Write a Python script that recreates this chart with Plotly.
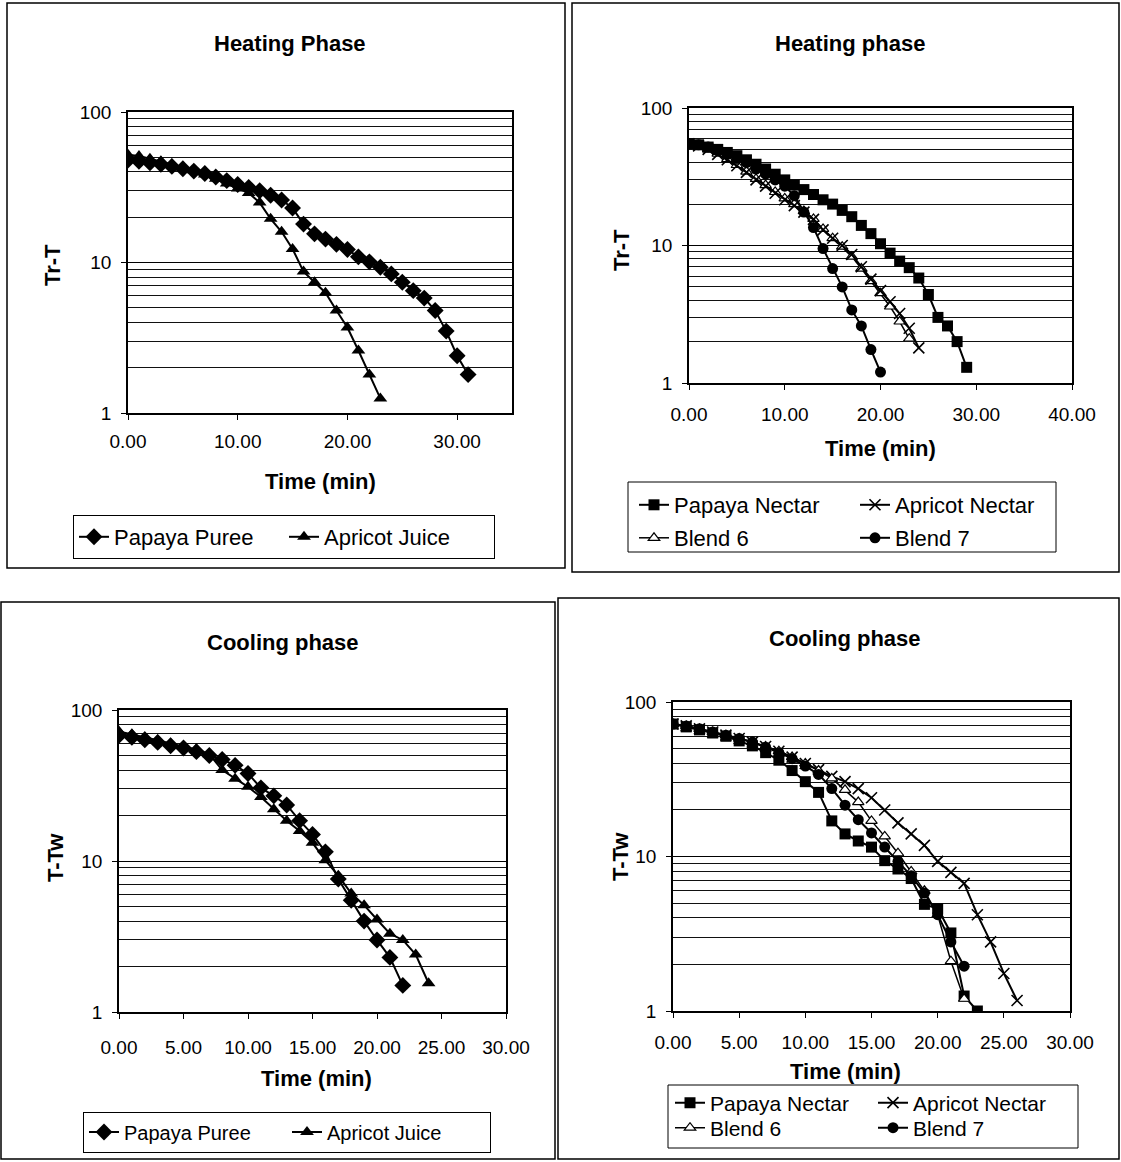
import plotly.graph_objects as go

W, H = 1121, 1162

# ---------------- DATA ----------------
# Top-left: Heating Phase (Tr-T)
tl_time_pp = list(range(0, 32))
tl_papaya_puree = [48, 47, 46, 45, 43.5, 42, 40.5, 39, 37, 35,
                   33, 31.5, 30, 28, 26, 23, 18, 15.5, 14.3, 13.2,
                   12.2, 10.9, 10.1, 9.3, 8.4, 7.4, 6.5, 5.8, 4.8, 3.5,
                   2.4, 1.8]
tl_time_aj = list(range(0, 24))
tl_apricot_juice = [52, 51, 49, 47, 45, 43, 41, 38.5, 36, 33.5,
                    31, 29, 25, 19.5, 16, 12.3, 8.7, 7.4, 6.3, 4.8,
                    3.7, 2.6, 1.8, 1.25]

# Top-right: Heating phase (Tr-T)
tr_time_pn = list(range(0, 30))
tr_papaya_nectar = [55, 54, 52, 50, 47.5, 45, 42, 39, 36, 33,
                    30, 27.5, 25.5, 23.5, 21.5, 20, 18, 16.2, 14, 12.2,
                    10.3, 8.8, 7.7, 6.9, 5.8, 4.4, 3.0, 2.6, 2.0, 1.3]
tr_time_an = list(range(0, 25))
tr_apricot_nectar = [55, 53, 50, 46, 42, 38, 34, 30, 27, 24,
                     21.5, 19.5, 17.5, 15.5, 13, 11.3, 10, 8.6, 7, 5.7,
                     4.7, 3.9, 3.2, 2.5, 1.8]
tr_time_b6 = list(range(0, 24))
tr_blend6 = [55, 53, 50, 46.5, 42.5, 38.5, 34.5, 30.5, 27.5, 24.5,
             22, 20, 17.8, 15.6, 13.2, 11.3, 9.8, 8.3, 6.8, 5.5,
             4.5, 3.6, 2.8, 2.1]
tr_time_b7 = list(range(0, 21))
tr_blend7 = [55, 54, 52, 49, 46, 43, 40, 36, 33, 30,
             27, 23, 17.5, 13.5, 9.5, 6.8, 5.0, 3.4, 2.6, 1.75, 1.2]

# Bottom-left: Cooling phase (T-Tw)
bl_time_pp = list(range(0, 23))
bl_papaya_puree = [68, 66, 63.5, 61, 58, 56, 53, 50, 47, 43,
                   38, 30.5, 27, 23.5, 18.5, 15, 11.5, 7.6, 5.5, 4.0,
                   3.0, 2.3, 1.5]
bl_time_aj = list(range(0, 25))
bl_apricot_juice = [72, 69, 66, 63, 60, 57, 55, 51, 40, 35,
                    31, 26.5, 22, 18.5, 15.8, 13.2, 10.1, 8, 6.1, 5.1,
                    4.1, 3.3, 3.0, 2.4, 1.55]

# Bottom-right: Cooling phase (T-Tw)
br_time_pn = list(range(0, 24))
br_papaya_nectar = [72, 69, 66, 63, 60, 56, 52, 47, 42, 36,
                    30.5, 26, 17, 14, 12.6, 11.5, 9.4, 8.3, 7.2, 4.9,
                    4.6, 3.2, 1.25, 1.0]
br_time_an = list(range(0, 27))
br_apricot_nectar = [72, 70, 67, 64, 61, 58, 55, 51.5, 48, 44,
                     40, 36.5, 33, 30.5, 27.5, 24, 20, 16.5, 14, 11.8,
                     9.3, 7.9, 6.7, 4.2, 2.8, 1.75, 1.17]
br_time_b6 = list(range(0, 23))
br_blend6 = [72, 70, 67, 64, 61, 58, 55, 51.5, 48, 44,
             40, 36, 32, 27, 22.5, 17, 13.5, 10.5, 8, 6,
             4.2, 2.1, 1.2]
br_time_b7 = list(range(0, 23))
br_blend7 = [72, 70, 67, 64, 61, 58, 55, 51, 47, 43,
             38.5, 34, 27.5, 21.5, 17.3, 14.2, 11.5, 9.3, 7.5, 5.8,
             4.2, 2.8, 1.95]

# Axis ticks
y_major = [1, 10, 100]
y_minor = [2, 3, 4, 5, 6, 7, 8, 9, 20, 30, 40, 50, 60, 70, 80, 90]

# ---------------- STYLE HELPERS ----------------
FONT = "Liberation Sans, Arial, sans-serif"


def fx(p):
    return p / W


def fy(p):
    return 1 - p / H


def xaxis(left, right, rng, dtick, anchor, standoff):
    return dict(domain=[fx(left), fx(right)], range=rng, dtick=dtick, tick0=0,
                tickformat=".2f", anchor=anchor, showgrid=False, zeroline=False,
                showline=True, mirror=True, linecolor="black", linewidth=1.5,
                ticks="outside", ticklen=5, tickcolor="black",
                tickfont=dict(size=19, family=FONT, color="black"),
                ticklabelstandoff=standoff, fixedrange=True, automargin=False)


def yaxis(top, bottom, anchor):
    return dict(domain=[fy(bottom), fy(top)], type="log", range=[0, 2],
                tickvals=y_major, ticktext=[str(v) for v in y_major],
                anchor=anchor, showgrid=True, gridcolor="black", gridwidth=1.4,
                minor=dict(tickvals=y_minor, showgrid=True, gridcolor="#111",
                           gridwidth=1.4, ticks=""),
                zeroline=False, showline=True, mirror=True, linecolor="black",
                linewidth=1.5, ticks="outside", ticklen=5, tickcolor="black",
                tickfont=dict(size=19, family=FONT, color="black"),
                ticklabelstandoff=6, fixedrange=True, automargin=False)


def series(x, y, name, symbol, xa, ya, legend, size=10, color="black",
           lw=2, mline=0):
    return go.Scatter(x=x, y=y, name=name, mode="lines+markers",
                      xaxis=xa, yaxis=ya, legend=legend,
                      line=dict(color="black", width=lw),
                      marker=dict(symbol=symbol, size=size, color=color,
                                  line=dict(color="black", width=mline)))


fig = go.Figure()

# Top-left
fig.add_trace(series(tl_time_pp, tl_papaya_puree, "Papaya Puree", "diamond", "x", "y", "legend", size=13))
fig.add_trace(series(tl_time_aj, tl_apricot_juice, "Apricot Juice", "triangle-up", "x", "y", "legend", size=12))

# Top-right
fig.add_trace(series(tr_time_b6, tr_blend6, "Blend 6", "triangle-up", "x2", "y2", "legend3", size=10, color="white", lw=1.5, mline=1.2))
fig.add_trace(series(tr_time_pn, tr_papaya_nectar, "Papaya Nectar", "square", "x2", "y2", "legend2", size=11))
fig.add_trace(series(tr_time_an, tr_apricot_nectar, "Apricot Nectar", "x-thin", "x2", "y2", "legend2", size=11, mline=1.6))
fig.add_trace(series(tr_time_b7, tr_blend7, "Blend 7", "circle", "x2", "y2", "legend3", size=11))

# Bottom-left
fig.add_trace(series(bl_time_pp, bl_papaya_puree, "Papaya Puree", "diamond", "x3", "y3", "legend4", size=13))
fig.add_trace(series(bl_time_aj, bl_apricot_juice, "Apricot Juice", "triangle-up", "x3", "y3", "legend4", size=12))

# Bottom-right
fig.add_trace(series(br_time_pn, br_papaya_nectar, "Papaya Nectar", "square", "x4", "y4", "legend5", size=11))
fig.add_trace(series(br_time_an, br_apricot_nectar, "Apricot Nectar", "x-thin", "x4", "y4", "legend5", size=11, mline=1.6))
fig.add_trace(series(br_time_b6, br_blend6, "Blend 6", "triangle-up", "x4", "y4", "legend6", size=10, color="white", lw=1.5, mline=1.2))
fig.add_trace(series(br_time_b7, br_blend7, "Blend 7", "circle", "x4", "y4", "legend6", size=11))


def legend(x, y, size=22, border=0, entrywidth=None):
    d = dict(x=fx(x), y=fy(y), xanchor="left", yanchor="middle", orientation="h",
             xref="paper", yref="paper",
             bgcolor="rgba(255,255,255,0)", bordercolor="black", borderwidth=border,
             font=dict(size=size, family=FONT, color="black"), tracegroupgap=0,
             itemclick=False, itemdoubleclick=False, traceorder="normal")
    if entrywidth:
        d["entrywidth"] = entrywidth
        d["entrywidthmode"] = "pixels"
    return d


annotations = []


def text(x, y, s, size=22, bold=True, angle=0):
    annotations.append(dict(x=fx(x), y=fy(y), xref="paper", yref="paper", text=s,
                            showarrow=False, xanchor="center", yanchor="middle",
                            textangle=angle,
                            font=dict(size=size, family=FONT, color="black",
                                      weight="bold" if bold else "normal")))


text(290, 43, "Heating Phase")
text(850, 43, "Heating phase")
text(283, 642, "Cooling phase")
text(845, 638, "Cooling phase")
text(320, 481, "Time (min)")
text(880, 448, "Time (min)")
text(316, 1078, "Time (min)")
text(845, 1071, "Time (min)")
text(52, 265, "Tr-T", angle=-90)
text(622, 250, "Tr-T", angle=-90)
text(55, 858, "T-Tw", angle=-90)
text(620, 857, "T-Tw", angle=-90)

shapes = []


def rect(x0, y0, x1, y1, w=1.5):
    shapes.append(dict(type="rect", xref="paper", yref="paper",
                       x0=fx(x0), x1=fx(x1), y0=fy(y1), y1=fy(y0),
                       line=dict(color="black", width=w), fillcolor="rgba(0,0,0,0)",
                       layer="above"))


# panel frames
rect(7, 3, 565, 568)
rect(572, 3, 1119, 572)
rect(1, 602, 555, 1159)
rect(558, 598, 1119, 1159)
# legend boxes for the two-row legends
rect(628, 482, 1056, 552, w=1)
rect(668, 1085, 1078, 1148, w=1)

fig.update_layout(
    width=W, height=H, margin=dict(l=0, r=0, t=0, b=0, autoexpand=False),
    paper_bgcolor="white", plot_bgcolor="white", showlegend=True,
    xaxis=xaxis(128, 512, [0, 35], 10, "y", 5),
    yaxis=yaxis(112, 413, "x"),
    xaxis2=xaxis(689, 1072, [0, 40], 10, "y2", 8),
    yaxis2=yaxis(108, 383, "x2"),
    xaxis3=xaxis(119, 506, [0, 30], 5, "y3", 12),
    yaxis3=yaxis(710, 1012, "x3"),
    xaxis4=xaxis(673, 1070, [0, 30], 5, "y4", 8),
    yaxis4=yaxis(702, 1011, "x4"),
    legend=legend(73, 537, border=1, entrywidth=165),
    legend2=legend(634, 505, entrywidth=176),
    legend3=legend(634, 538, entrywidth=176),
    legend4=legend(83, 1132, size=20, border=1, entrywidth=158),
    legend5=legend(670, 1103, size=21, entrywidth=158),
    legend6=legend(670, 1128, size=21, entrywidth=158),
    annotations=annotations,
    shapes=shapes,
)

fig.write_html("out.html", config={"displayModeBar": False},
               post_script="document.body.style.margin='0';document.body.style.overflow='hidden';")
